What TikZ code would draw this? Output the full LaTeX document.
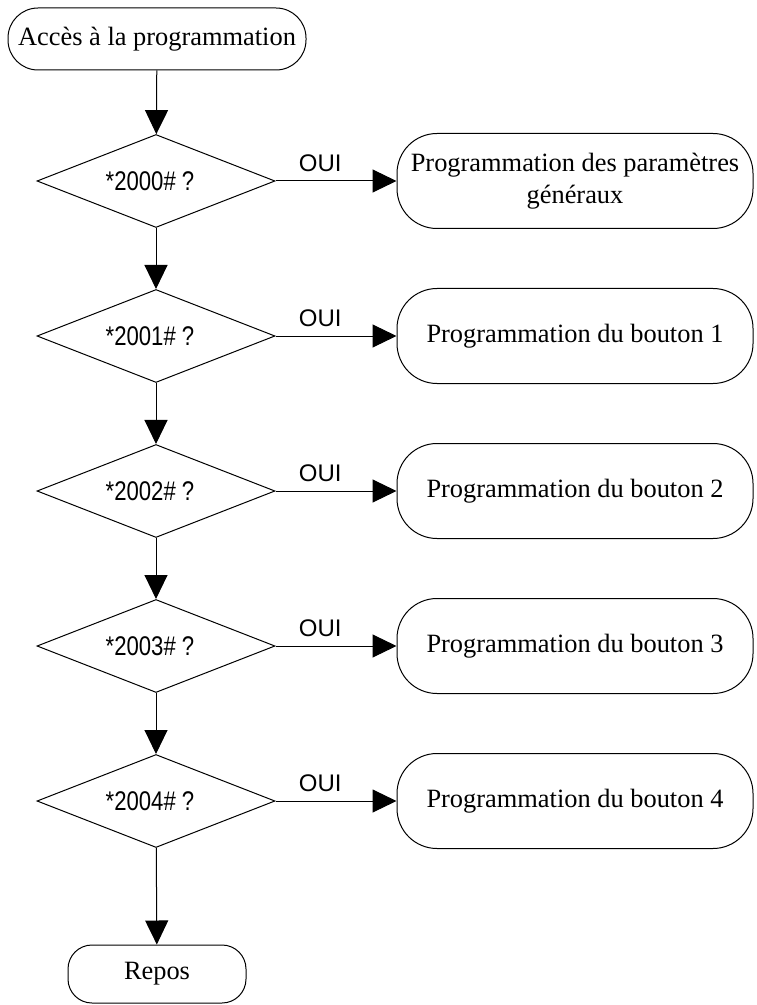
\documentclass[tikz,border=0pt]{standalone}
\usepackage{fontspec}
\setmainfont{Liberation Serif}
\setsansfont{Liberation Sans}
\usetikzlibrary{arrows.meta,shapes.geometric}
\tikzset{
  etape/.style={draw,rounded corners=20pt,minimum width=178pt,minimum height=47.5pt,
    align=center,font=\fontsize{13.2}{16}\selectfont},
  test/.style={draw,diamond,aspect=2.56,inner sep=0pt,minimum width=119pt,
    minimum height=46.5pt,font=\sffamily\fontsize{13.5}{15}\selectfont},
  fleche/.style={line width=0.5pt,-{Triangle[width=11.5pt,length=12pt]}},
  oui/.style={font=\sffamily\fontsize{12}{14}\selectfont}
}
\newcommand{\etroit}[1]{\scalebox{0.82}[1]{#1}}
\begin{document}
\begin{tikzpicture}[x=0.5pt,y=-0.5pt,line width=0.5pt]
  \useasboundingbox (0,0) rectangle (756,1005);
  \node[etape,rounded corners=15pt,minimum width=149pt,minimum height=31pt] (acces) at (157,39) {Accès à la programmation};
  \foreach \n/\lab/\txt [count=\i from 0] in {%
      0/2000/{Programmation des paramètres\\généraux},
      1/2001/{Programmation du bouton 1},
      2/2002/{Programmation du bouton 2},
      3/2003/{Programmation du bouton 3},
      4/2004/{Programmation du bouton 4}}{
    \node[test] (t\n) at (156,181+155*\i) {\etroit{*\lab\#\ ?}\hspace*{6pt}};
    \node[etape] (p\n) at (575,181+155*\i) {\txt};
    \draw[fleche] (t\n.east) -- (p\n.west) node[oui,pos=0.37,above=1pt] {OUI};
  }
  \node[etape,rounded corners=12pt,minimum width=89pt,minimum height=29pt] (repos) at (157,974) {Repos};
  \draw[fleche] (acces) -- (t0);
  \foreach \a/\b in {0/1,1/2,2/3,3/4}{\draw[fleche] (t\a) -- (t\b);}
  \draw[fleche] (t4) -- (repos);
\end{tikzpicture}
\end{document}
